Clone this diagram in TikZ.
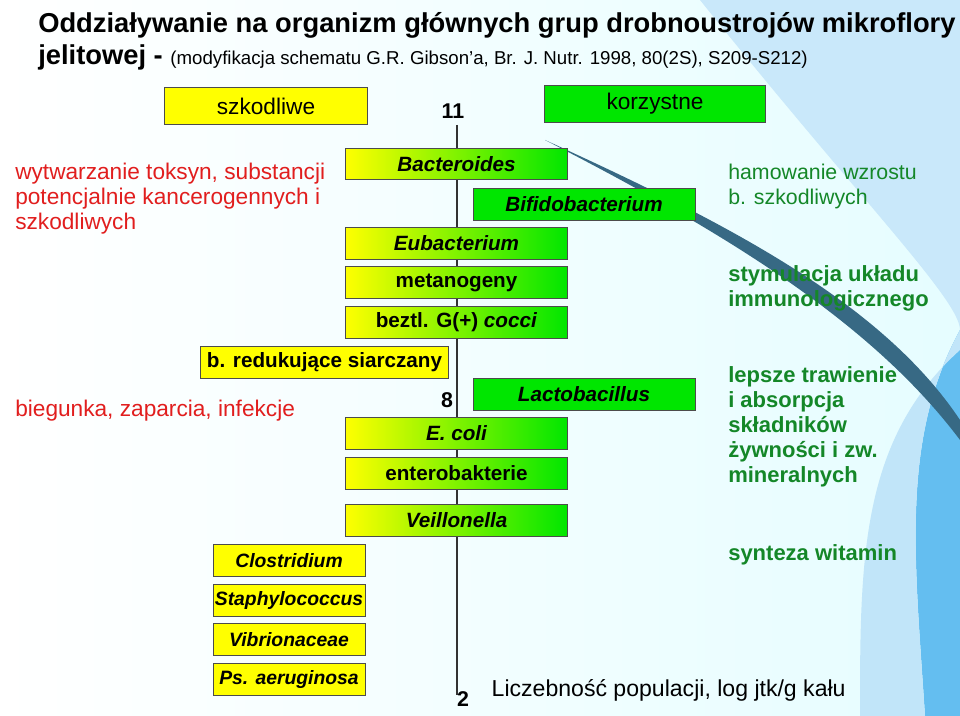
\documentclass[tikz,border=0pt]{standalone}
\usepackage{fontspec}
\setmainfont{Liberation Sans}
\usetikzlibrary{positioning}
\definecolor{ylw}{RGB}{255,255,0}
\definecolor{grn}{RGB}{0,230,0}
\definecolor{badred}{RGB}{225,30,30}
\definecolor{goodgrn}{RGB}{20,135,40}
\definecolor{skyblue}{RGB}{100,190,240}
\tikzset{
  box/.style={draw=black!70, line width=0.6pt, inner sep=0pt, font=\bfseries\fontsize{15.5}{17}\selectfont},
  badbox/.style={box, fill=ylw},
  goodbox/.style={box, fill=grn},
  mixbox/.style={box, left color=ylw, right color=grn},
  smallbox/.style={badbox, minimum width=114pt, minimum height=23.5pt, font=\bfseries\itshape\fontsize{14.5}{17}\selectfont},
  badtxt/.style={anchor=north west, align=left, text=badred, font=\fontsize{17}{18.75}\selectfont, inner sep=0pt},
  goodtxt/.style={anchor=north west, align=left, text=goodgrn, font=\bfseries\fontsize{16.5}{18.75}\selectfont, inner sep=0pt},
  numtxt/.style={font=\bfseries\fontsize{16}{17}\selectfont},
}
\begin{document}
\begin{tikzpicture}[x=0.75pt, y=-0.75pt]
    \useasboundingbox (0,0) rectangle (960,716);
    % background
    \fill[left color=white, right color=blue!8!cyan!10] (0,0) rectangle (960,716);
    \fill[skyblue!35] (700,0) .. controls (860,200) and (960,300) .. (960,330) -- (960,0) -- cycle;
    \fill[skyblue] (960,330) .. controls (900,440) and (915,560) .. (925,716) -- (960,716) -- cycle;
    \fill[skyblue!40] (960,350) .. controls (860,440) and (860,560) .. (860,716) -- (925,716) .. controls (915,560) and (900,440) .. (960,330) -- cycle;
    \fill[black!45!skyblue] (545,140) .. controls (720,220) and (880,300) .. (960,420) -- (960,440) .. controls (870,320) and (720,230) .. cycle;

    % title
    \node[anchor=north west, align=left, inner sep=0pt, font=\bfseries\fontsize{20.5}{24.5}\selectfont] (title) at (38,12)
      {Oddziaływanie na organizm głównych grup drobnoustrojów mikroflory\\
       jelitowej - {\mdseries\fontsize{14}{24.5}\selectfont(modyfikacja schematu G.R. Gibson’a, Br. J. Nutr. 1998, 80(2S), S209-S212)}};

    % headers
    \node[badbox, minimum width=152pt, minimum height=28pt, font=\fontsize{17}{18}\selectfont] (bad) at (266,106) {szkodliwe};
    \node[goodbox, minimum width=166pt, minimum height=28pt, font=\fontsize{17}{18}\selectfont] (good) at (655,104) {korzystne};

    % axis
    \coordinate (top) at (457,125);
    \coordinate (bot) at (457,695);
    \draw[black!80, line width=0.8pt] (top) -- (bot);
    \node[numtxt] (n11) at (453,111) {11};
    \node[numtxt] (n8) at (447,400) {8};
    \node[numtxt] (n2) at (463,699) {2};
    \node[anchor=west, font=\fontsize{17.3}{18}\selectfont] (axis) at (487,690) {Liczebność populacji, log jtk/g kału};

    % mixed
    \node[mixbox, minimum width=167pt, minimum height=23.5pt] (bact) at (456.5,164) {\itshape Bacteroides};
    \node[mixbox, minimum width=167pt, minimum height=23.5pt] (eub) at (456.5,243.5) {\itshape Eubacterium};
    \node[mixbox, minimum width=167pt, minimum height=23.5pt] (meta) at (456.5,282.5) {metanogeny};
    \node[mixbox, minimum width=167pt, minimum height=23.5pt] (cocci) at (456.5,322.5) {beztl. G(+) \textit{cocci}};
    \node[mixbox, minimum width=167pt, minimum height=23.5pt] (ecoli) at (456.5,433.5) {\itshape E. coli};
    \node[mixbox, minimum width=167pt, minimum height=23.5pt] (entero) at (456.5,473.5) {enterobakterie};
    \node[mixbox, minimum width=167pt, minimum height=23.5pt] (veil) at (456.5,520.5) {\itshape Veillonella};

    % beneficial
    \node[goodbox, minimum width=166.5pt, minimum height=24pt] (bifido) at (584,204) {\itshape Bifidobacterium};
    \node[goodbox, minimum width=166.5pt, minimum height=24pt] (lacto) at (584,394) {\itshape Lactobacillus};

    % harmful
    \node[badbox, minimum width=186.5pt, minimum height=23.5pt] (sulf) at (324.5,362.5) {b. redukujące siarczany};
    \node[smallbox] (clos) at (289,560.5) {Clostridium};
    \node[smallbox] (staph) at (289,600.5) {Staphylococcus};
    \node[smallbox] (vibr) at (289,639.5) {Vibrionaceae};
    \node[smallbox] (pseud) at (289,679.5) {Ps. aeruginosa};

    % effects
    \node[badtxt] (tox) at (15,163) {wytwarzanie toksyn, substancji\\potencjalnie kancerogennych i\\szkodliwych};
    \node[badtxt] (diar) at (15,400) {biegunka, zaparcia, infekcje};
    \node[goodtxt, font=\fontsize{16}{18.75}\selectfont] (inhib) at (728,164) {hamowanie wzrostu\\b. szkodliwych};
    \node[goodtxt] (immu) at (728,265) {stymulacja układu\\immunologicznego};
    \node[goodtxt] (dig) at (728,366) {lepsze trawienie\\i absorpcja\\składników\\żywności i zw.\\mineralnych};
    \node[goodtxt] (vit) at (728,544) {synteza witamin};
\end{tikzpicture}
\end{document}
